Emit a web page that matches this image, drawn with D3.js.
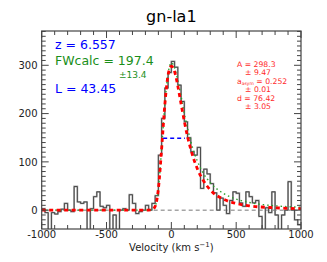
<!DOCTYPE html>
<html lang="en">
<head>
<meta charset="UTF-8">
<title>gn-la1</title>
<script src="https://d3js.org/d3.v7.min.js"></script>
<style>
  body { margin: 0; background: #fff; }
  text { font-family: "DejaVu Sans", sans-serif; }
</style>
</head>
<body>
<svg></svg>
<script>
// spectrum: flux per 25 km/s bin, starting at -1000
const binStart = -1000;
const binWidth = 25;
const flux = [3, -5, -45, -5, -8, -3, 2, 14, 0, -3,
              49, 17, 14, 17, -45, 3, 28, 38, 8, 5,
              10, -45, -10, -45, 0, 3, 0, 32, 14, -7,
              -3, 0, 10, 0, 14, 30, 114, 190, 253, 285,
              308, 296, 259, 225, 183, 150, 121, 114, 130, 45,
              85, 75, 55, 36, 0, 25, 10, -7, 20, 38,
              35, 15, 8, 38, 28, 15, 20, -13, -45, 5,
              -5, 38, -10, -45, -10, 0, 59, 0, -20, -30];

// fitted profiles
const fitVel = [-1000, -200, -150, -125, -100, -75, -50, -25, 0, 25, 50, 75, 100, 125, 150, 200, 250, 300, 400, 500, 600, 800, 1000];
const fitRed = [0, 0, 1, 8, 44, 127, 219, 280, 298, 287, 257, 220, 184, 152, 126, 86, 60, 42, 23, 14, 9, 5, 3];
const fitGreen = [0, 0, 1, 8, 44, 127, 220, 283, 305, 295, 268, 236, 200, 170, 142, 102, 75, 57, 35, 23, 16, 9, 6];

// half-maximum width marker
const fwhmLo = -63, fwhmHi = 105, fwhmLevel = 149;

const xTicks = [-1000, -500, 0, 500, 1000];
const yTicks = [0, 100, 200, 300];

const W = 327, H = 262;
const svg = d3.select("svg").attr("width", W).attr("height", H);

const x = d3.scaleLinear().domain([-1000, 1000]).range([41.7, 301]);
const y = d3.scaleLinear().domain([-39, 371]).range([229, 31]);

svg.append("clipPath").attr("id", "clip")
  .append("rect")
  .attr("x", x(-1000)).attr("y", y(371))
  .attr("width", x(1000) - x(-1000)).attr("height", y(-39) - y(371));

const plot = svg.append("g").attr("clip-path", "url(#clip)");

// zero line
plot.append("line")
  .attr("x1", x(-1000)).attr("x2", x(1000))
  .attr("y1", y(0)).attr("y2", y(0))
  .attr("stroke", "#555").attr("stroke-width", 0.8)
  .attr("stroke-dasharray", "4,3");

// spectrum as a step line
const steps = flux.map((f, i) => [binStart + i * binWidth, f]);
steps.push([binStart + flux.length * binWidth, flux[flux.length - 1]]);
const stepLine = d3.line().x(d => x(d[0])).y(d => y(d[1])).curve(d3.curveStepAfter);
plot.append("path").datum(steps)
  .attr("d", stepLine)
  .attr("fill", "none").attr("stroke", "#aaa").attr("stroke-width", 1.8);
plot.append("path").datum(steps)
  .attr("d", stepLine)
  .attr("fill", "none").attr("stroke", "#333").attr("stroke-width", 0.8);

// fits
const fitLine = vals => d3.line()
  .x((d, i) => x(fitVel[i])).y(d => y(d))
  .curve(d3.curveMonotoneX)(vals);

plot.append("path")
  .attr("d", fitLine(fitGreen))
  .attr("fill", "none").attr("stroke", "#2ca02c").attr("stroke-width", 1.4)
  .attr("stroke-dasharray", "1.5,3");

plot.append("path")
  .attr("d", fitLine(fitRed))
  .attr("fill", "none").attr("stroke", "red").attr("stroke-width", 2.8)
  .attr("stroke-dasharray", "4,3.5");

// FWHM
plot.append("line")
  .attr("x1", x(fwhmLo)).attr("x2", x(fwhmHi))
  .attr("y1", y(fwhmLevel)).attr("y2", y(fwhmLevel))
  .attr("stroke", "blue").attr("stroke-width", 1.5)
  .attr("stroke-dasharray", "4,3");

// frame and ticks on all sides, pointing inward
const axisColor = "#444";
svg.append("rect")
  .attr("x", x(-1000)).attr("y", y(371))
  .attr("width", x(1000) - x(-1000)).attr("height", y(-39) - y(371))
  .attr("fill", "none").attr("stroke", axisColor).attr("stroke-width", 1.2);

const xMinor = d3.range(-1000, 1001, 100);
const yMinor = d3.range(-30, 371, 10);
const tickG = svg.append("g").attr("stroke", axisColor).attr("stroke-width", 1);

xMinor.forEach(v => {
  const len = xTicks.includes(v) ? 7 : 4;
  tickG.append("line").attr("x1", x(v)).attr("x2", x(v))
    .attr("y1", y(-39)).attr("y2", y(-39) - len);
  tickG.append("line").attr("x1", x(v)).attr("x2", x(v))
    .attr("y1", y(371)).attr("y2", y(371) + len);
});
yMinor.forEach(v => {
  const len = yTicks.includes(v) ? 7 : 4;
  tickG.append("line").attr("y1", y(v)).attr("y2", y(v))
    .attr("x1", x(-1000)).attr("x2", x(-1000) + len);
  tickG.append("line").attr("y1", y(v)).attr("y2", y(v))
    .attr("x1", x(1000)).attr("x2", x(1000) - len);
});

// tick labels
svg.append("g").selectAll("text").data(xTicks).join("text")
  .attr("x", d => x(d)).attr("y", 237.5)
  .attr("text-anchor", "middle").attr("font-size", 10).attr("fill", "#222")
  .text(d => d);
svg.append("g").selectAll("text").data(yTicks).join("text")
  .attr("x", 37.5).attr("y", d => y(d) + 3.7)
  .attr("text-anchor", "end").attr("font-size", 10).attr("fill", "#222")
  .text(d => d);

// axis label and title
const xl = svg.append("text")
  .attr("x", x(0)).attr("y", 250.5)
  .attr("text-anchor", "middle").attr("font-size", 10).attr("fill", "#222");
xl.append("tspan").text("Velocity (km s");
xl.append("tspan").attr("dy", -4).attr("font-size", 7).text("\u22121");
xl.append("tspan").attr("dy", 4).text(")");

svg.append("text")
  .attr("x", x(0)).attr("y", 22)
  .attr("text-anchor", "middle").attr("font-size", 16).attr("fill", "#000")
  .text("gn-la1");

// annotations
svg.append("text").attr("x", 55).attr("y", 49)
  .attr("font-size", 12.5).attr("fill", "blue").text("z = 6.557");
svg.append("text").attr("x", 55).attr("y", 64.5)
  .attr("font-size", 12.5).attr("fill", "#1a8f1a").text("FWcalc = 197.4");
svg.append("text").attr("x", 119).attr("y", 77.5)
  .attr("font-size", 9).attr("fill", "#1a8f1a").text("\u00b113.4");
svg.append("text").attr("x", 55).attr("y", 93)
  .attr("font-size", 12.5).attr("fill", "blue").text("L = 43.45");

const red = "#ff2a2a";
const redLines = [
  { x: 237, y: 66.7, t: "A = 298.3" },
  { x: 245, y: 75.3, t: "\u00b1 9.47" },
  { x: 245, y: 92.3, t: "\u00b1 0.01" },
  { x: 237, y: 101, t: "d = 76.42" },
  { x: 245, y: 109.3, t: "\u00b1 3.05" }
];
redLines.forEach(r => svg.append("text").attr("x", r.x).attr("y", r.y)
  .attr("font-size", 7.7).attr("fill", red).text(r.t));
const asym = svg.append("text").attr("x", 237).attr("y", 83.6)
  .attr("font-size", 7.7).attr("fill", red);
asym.append("tspan").text("a");
asym.append("tspan").attr("dy", 1.5).attr("font-size", 4.5).text("asym");
asym.append("tspan").attr("dy", -1.5).text(" = 0.252");
</script>
</body>
</html>
